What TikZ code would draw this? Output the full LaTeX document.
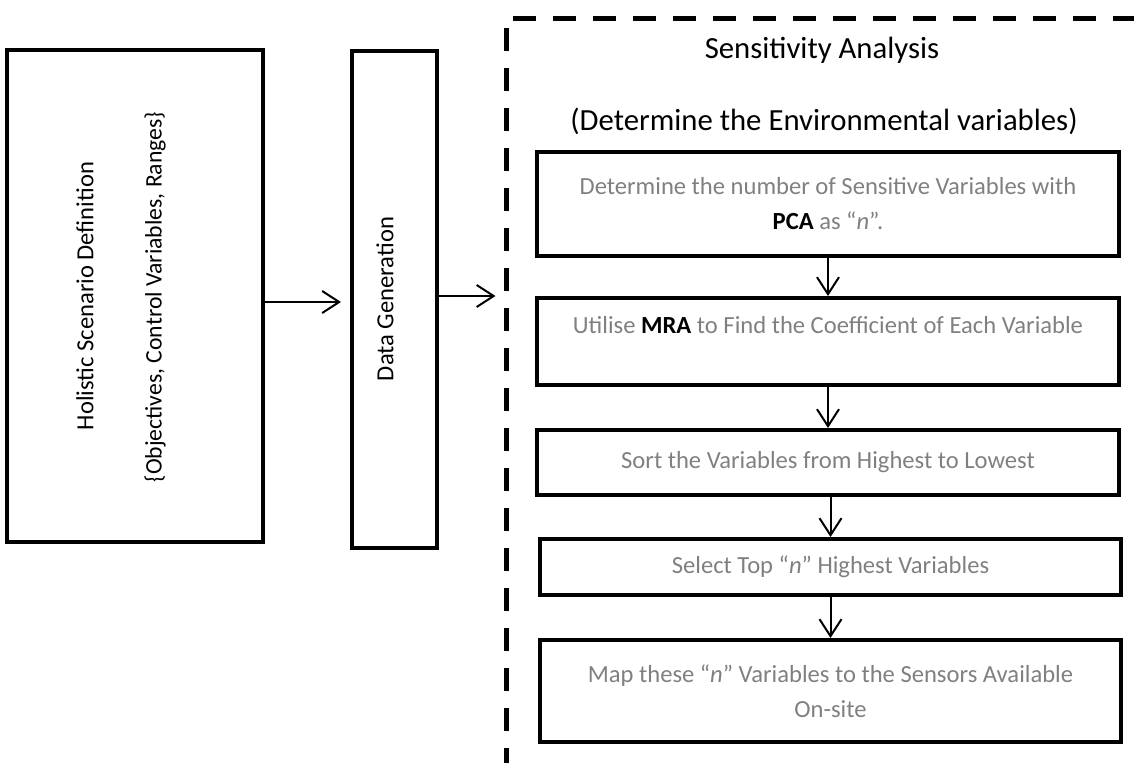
\documentclass[tikz,border=0pt]{standalone}
\usepackage{fontspec}
\setmainfont{Carlito}
\usetikzlibrary{arrows.meta}
\definecolor{softgray}{RGB}{128,128,128}
\newcommand\pxu{0.02cm}
\tikzset{
  boxline/.style={draw, rectangle, line width=4*\pxu, inner sep=0pt},
  stepbox/.style={boxline, align=center, text=softgray,
    font=\fontsize{14}{19.9}\selectfont},
  sidetext/.style={rotate=90, inner sep=0pt, font=\fontsize{13.5}{16}\selectfont},
  sidehead/.style={rotate=90, inner sep=0pt, font=\fontsize{14}{16}\selectfont},
  headtext/.style={inner sep=0pt, font=\fontsize{17.5}{21}\selectfont},
  conn/.style={line width=2*\pxu, -{Straight Barb[length=17*\pxu, width=22*\pxu]}},
}
\newcommand\kw[1]{{\color{black}\bfseries #1}}
\newcommand\qn{“\textit{n}”}
\begin{document}
\begin{tikzpicture}[x=\pxu, y=-\pxu]
  \useasboundingbox (0,0) rectangle (1134,762);
  \clip (0,0) rectangle (1134,762);

  % scenario definition and data generation
  \node[boxline, minimum width=256*\pxu, minimum height=492*\pxu] (L) at (135,296) {};
  \node[sidehead] (Lt) at (85,296) {Holistic Scenario Definition};
  \node[sidetext] (Ls) at (155,297) {\{Objectives, Control Variables, Ranges\}};
  \node[boxline, minimum width=85*\pxu, minimum height=497*\pxu] (D) at (394.5,299.5) {};
  \node[sidehead] (Dt) at (385,299) {Data Generation};

  % sensitivity analysis frame
  \node[draw, dashed, line width=5*\pxu, dash pattern=on 23*\pxu off 17*\pxu,
        minimum width=664*\pxu, minimum height=782*\pxu, inner sep=0pt] (SA) at (838,409) {};
  \node[headtext] (SAt) at (822,50) {Sensitivity Analysis};
  \node[headtext] (SAs) at (824,121) {(Determine the Environmental variables)};

  % analysis steps
  \node[stepbox, minimum width=582*\pxu, minimum height=104*\pxu] (B1) at (828,204)
    {Determine the number of Sensitive Variables with\\ \kw{PCA} as \qn.};
  \node[stepbox, minimum width=582*\pxu, minimum height=87*\pxu] (B2) at (828,341.5)
    {Utilise \kw{MRA} to Find the Coefficient of Each Variable\\[-12*\pxu]\strut};
  \node[stepbox, minimum width=582*\pxu, minimum height=65*\pxu] (B3) at (828,462.5)
    {Sort the Variables from Highest to Lowest};
  \node[stepbox, minimum width=581*\pxu, minimum height=56*\pxu] (B4) at (830.5,567)
    {Select Top \qn{} Highest Variables};
  \node[stepbox, minimum width=581*\pxu, minimum height=102*\pxu] (B5) at (830.5,691)
    {Map these \qn{} Variables to the Sensors Available\\ On-site};

  % connectors
  \coordinate (ya) at (0,302);
  \coordinate (yb) at (0,296);
  \draw[conn] (L.east |- ya) -- ([xshift=-9*\pxu]D.west |- ya);
  \draw[conn] ([xshift=-4*\pxu]D.east |- yb) -- ([xshift=-8*\pxu]SA.west |- yb);
  \draw[conn] (B1.south) -- (B2.north);
  \draw[conn] (B2.south) -- (B3.north);
  \draw[conn] (B3.south -| B4.north) -- (B4.north);
  \draw[conn] (B4.south) -- (B5.north);
\end{tikzpicture}
\end{document}
